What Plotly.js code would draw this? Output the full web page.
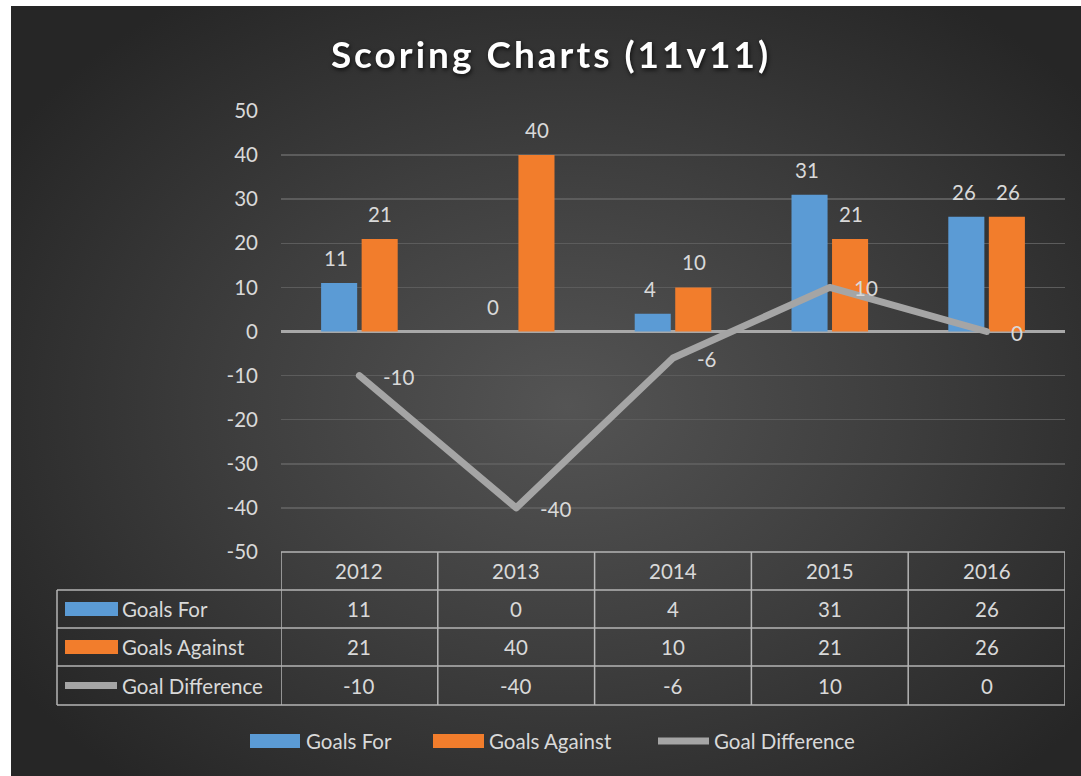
<!DOCTYPE html>
<html>
<head>
<meta charset="utf-8">
<script src="https://cdn.plot.ly/plotly-3.0.1.min.js"></script>
<style>
  html, body { margin:0; padding:0; background:#ffffff; width:1081px; height:776px; overflow:hidden; }
  #bg { position:absolute; left:11px; top:6px; width:1070px; height:770px;
        background: radial-gradient(ellipse 62% 65% at 52% 52%, #545454 0%, #3e3e3e 50%, #262626 100%); }
  #chart { position:absolute; left:0; top:0; width:1081px; height:776px; }
  .gtitle { letter-spacing: 3px; filter: drop-shadow(1px 2px 2px rgba(0,0,0,0.7)); }
  .scatterlayer path.js-line { stroke-linejoin: round; stroke-linecap: round; }
</style>
</head>
<body>
<div id="bg"></div>
<div id="chart"></div>
<script>
// ---- data ----
const years = ['2012', '2013', '2014', '2015', '2016'];
const goalsFor = [11, 0, 4, 31, 26];
const goalsAgainst = [21, 40, 10, 21, 26];
const goalDifference = [-10, -40, -6, 10, 0];
const seriesNames = ['Goals For', 'Goals Against', 'Goal Difference'];
const yTickValues = [-50, -40, -30, -20, -10, 0, 10, 20, 30, 40, 50];
const titleText = 'Scoring Charts (11v11)';

// ---- style ----
const FONT = 'Lato, "Open Sans", sans-serif';
const FS = 20.5;
const TXT = '#d9d9d9';
const BLUE = '#5b9bd5';
const ORANGE = '#f27d2c';
const GRAY = '#a5a5a5';
const TABLE_LINE = '#b4b4b4';

// layout geometry (pixels)
const W = 1081, H = 776;
const L = 281, R = 1065, T = 111, B = 552;
const px = x => (x - L) / (R - L);
const py = y => (B - y) / (B - T);

const rowEdges = [552, 590, 628, 666, 705];
const leftEdge = 57;

const traces = [
  { type:'bar', name:seriesNames[0], x:years, y:goalsFor, marker:{color:BLUE}, hoverinfo:'y' },
  { type:'bar', name:seriesNames[1], x:years, y:goalsAgainst, marker:{color:ORANGE}, hoverinfo:'y' },
  { type:'scatter', mode:'lines', name:seriesNames[2], x:years, y:goalDifference,
    line:{color:GRAY, width:7}, hoverinfo:'y' }
];

const annotations = [];
const shapes = [];
const f = () => ({family:FONT, size:FS, color:TXT});

// data labels (x given as category index)
years.forEach((yr, i) => {
  annotations.push({ x:i, y:goalsFor[i], xref:'x', yref:'y', text:String(goalsFor[i]),
    showarrow:false, xshift:-23, yshift:25, yanchor:'middle', font:f() });
  annotations.push({ x:i, y:goalsAgainst[i], xref:'x', yref:'y', text:String(goalsAgainst[i]),
    showarrow:false, xshift:21, yshift:25, yanchor:'middle', font:f() });
  annotations.push({ x:i, y:goalDifference[i], xref:'x', yref:'y', text:String(goalDifference[i]),
    showarrow:false, xanchor:'left', xshift:22, yshift:-1, yanchor:'middle', font:f() });
});

// data table
const rowCenter = k => (rowEdges[k] + rowEdges[k+1]) / 2;
years.forEach((yr, i) => {
  annotations.push({ x:i, xref:'x', y:py(rowCenter(0)), yref:'paper', text:yr, showarrow:false,
    yanchor:'middle', font:f() });
  [goalsFor, goalsAgainst, goalDifference].forEach((arr, k) => {
    annotations.push({ x:i, xref:'x', y:py(rowCenter(k+1)), yref:'paper', text:String(arr[i]), showarrow:false,
      yanchor:'middle', font:f() });
  });
});
// table lines
shapes.push({ type:'line', xref:'paper', yref:'paper', x0:0, x1:1, y0:py(rowEdges[0]), y1:py(rowEdges[0]),
  line:{color:TABLE_LINE, width:1.5} });
for (let k = 1; k < rowEdges.length; k++) {
  shapes.push({ type:'line', xref:'paper', yref:'paper', x0:px(leftEdge), x1:1, y0:py(rowEdges[k]), y1:py(rowEdges[k]),
    line:{color:TABLE_LINE, width:1.5} });
}
shapes.push({ type:'line', xref:'paper', yref:'paper', x0:px(leftEdge), x1:px(leftEdge), y0:py(rowEdges[1]), y1:py(rowEdges[4]),
  line:{color:TABLE_LINE, width:1.5} });
for (let i = 0; i <= years.length; i++) {
  shapes.push({ type:'line', xref:'x', yref:'paper', x0:i-0.5, x1:i-0.5, y0:py(rowEdges[0]), y1:py(rowEdges[4]),
    line:{color:TABLE_LINE, width:1.5} });
}
// legend keys
function keys(x0, x1, yc, textX) {
  shapes.push({ type:'rect', xref:'paper', yref:'paper', x0:px(x0[0]), x1:px(x1[0]), y0:py(yc[0]-7), y1:py(yc[0]+7),
    fillcolor:BLUE, line:{width:0} });
  shapes.push({ type:'rect', xref:'paper', yref:'paper', x0:px(x0[1]), x1:px(x1[1]), y0:py(yc[1]-7), y1:py(yc[1]+7),
    fillcolor:ORANGE, line:{width:0} });
  shapes.push({ type:'line', xref:'paper', yref:'paper', x0:px(x0[2]+3), x1:px(x1[2]-3), y0:py(yc[2]), y1:py(yc[2]),
    line:{color:GRAY, width:7} });
  seriesNames.forEach((nm, k) => {
    annotations.push({ x:px(textX[k]), xref:'paper', y:py(yc[k]), yref:'paper', text:nm, showarrow:false,
      xanchor:'left', yanchor:'middle', font:f() });
  });
}
keys([65, 65, 62], [118, 118, 120], [rowCenter(1), rowCenter(2), rowCenter(3)], [120, 120, 120]);
keys([250, 433, 655], [300, 484, 712], [741, 741, 741], [304, 487, 712]);

const layout = {
  width: W, height: H,
  paper_bgcolor: 'rgba(0,0,0,0)',
  plot_bgcolor: 'rgba(0,0,0,0)',
  margin: { l: L, r: W - R, t: T, b: H - B, pad: 0 },
  showlegend: false,
  barmode: 'group',
  bargap: 0.483,
  bargroupgap: 0.11,
  title: { text: '<b>' + titleText + '</b>', x: 551 / W, xref: 'container', xanchor: 'center',
           y: 1 - 55 / H, yref: 'container', yanchor: 'middle',
           font: { family: FONT, size: 37, color: '#ffffff' } },
  xaxis: { type:'category', range:[-0.5, years.length - 0.5], showticklabels:false, showgrid:false,
           zeroline:false, showline:false, ticks:'', fixedrange:true },
  yaxis: { range:[-50, 50], tickmode:'array', tickvals:yTickValues, ticktext:yTickValues.map(String),
           showgrid:true, gridcolor:'#5c5c5c', gridwidth:1.5,
           zeroline:true, zerolinecolor:'#a8a8a8', zerolinewidth:2.5, showline:false, ticks:'',
           ticklabelstandoff: 22,
           tickfont:{family:FONT, size:FS, color:TXT}, fixedrange:true },
  annotations: annotations,
  shapes: shapes,
  font: { family: FONT, color: TXT }
};

Plotly.newPlot('chart', traces, layout, { staticPlot: true, displayModeBar: false });
</script>
</body>
</html>
